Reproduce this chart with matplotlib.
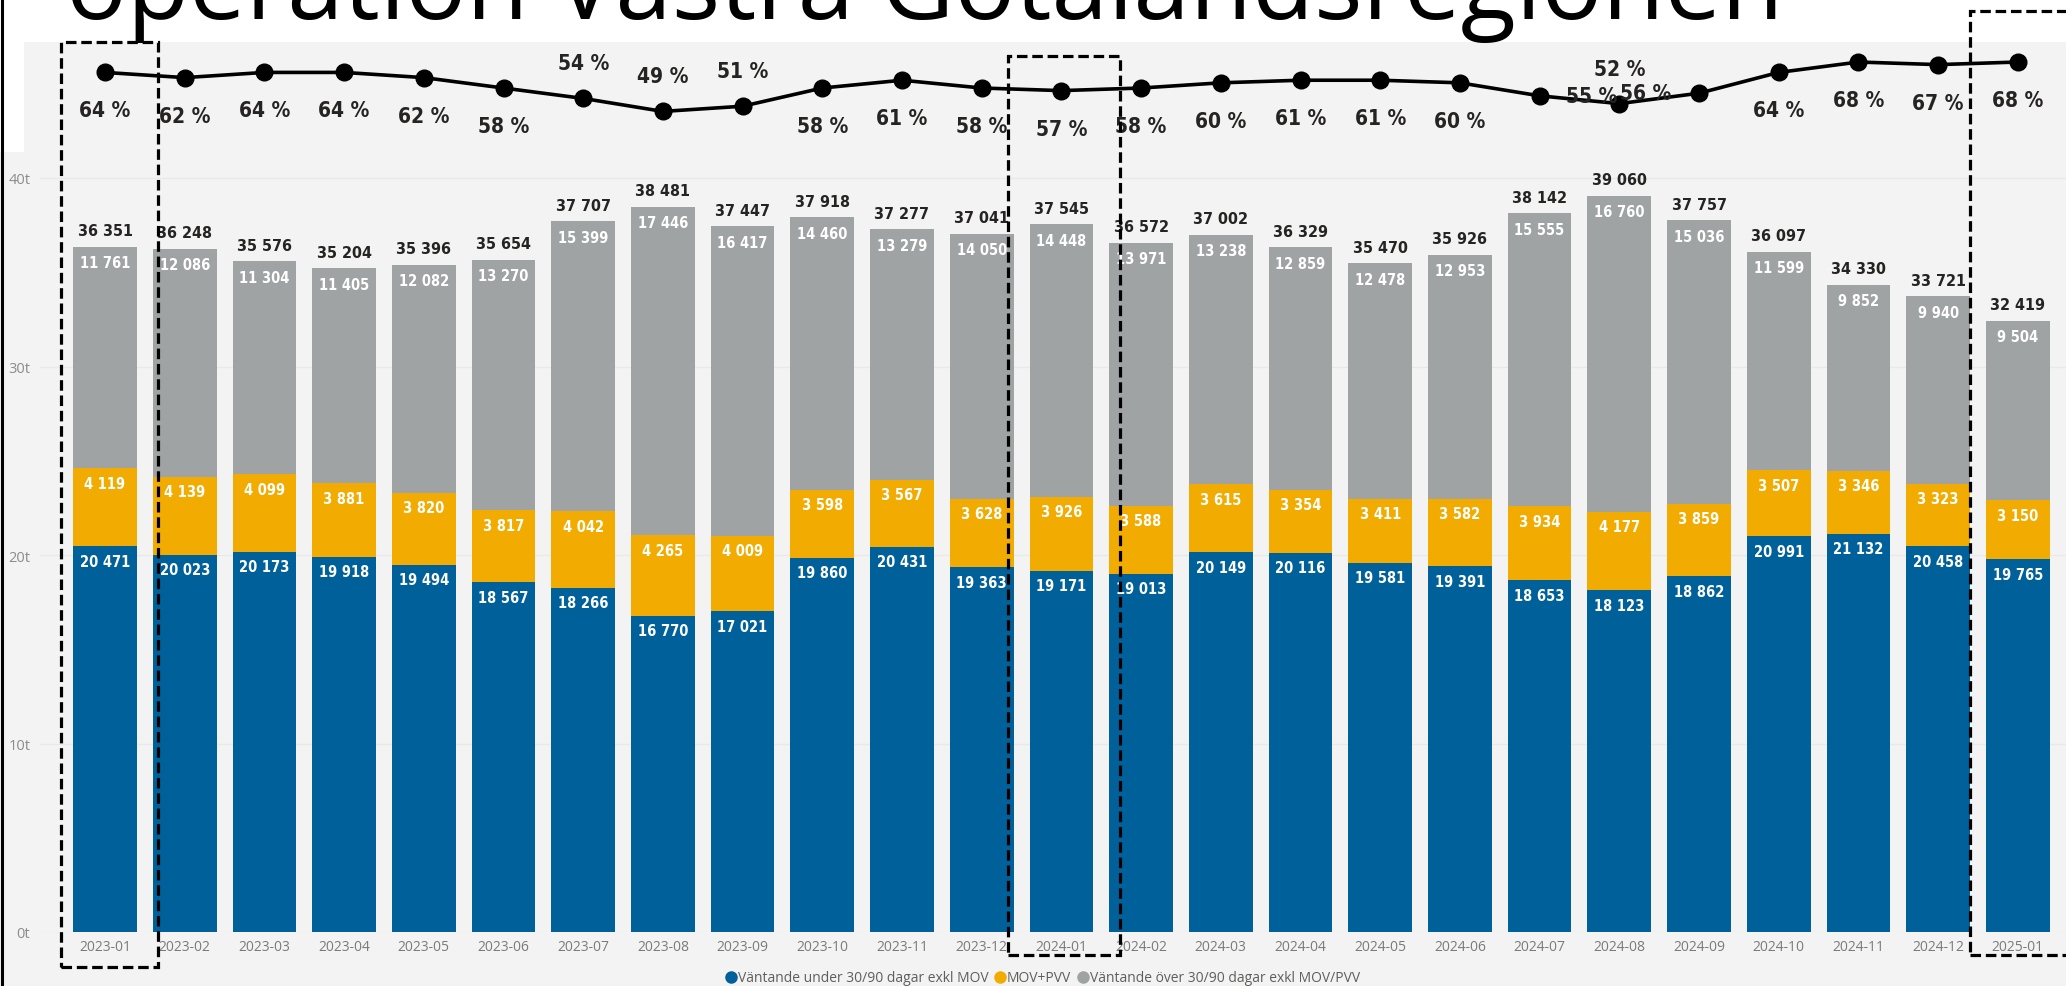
import numpy as np
import matplotlib
matplotlib.use('Agg')
import matplotlib.pyplot as plt
from matplotlib import font_manager, transforms
from matplotlib.patches import Rectangle
from matplotlib.lines import Line2D

# Data
months = ['2023-01', '2023-02', '2023-03', '2023-04', '2023-05', '2023-06', '2023-07',
          '2023-08', '2023-09', '2023-10', '2023-11', '2023-12', '2024-01', '2024-02',
          '2024-03', '2024-04', '2024-05', '2024-06', '2024-07', '2024-08', '2024-09',
          '2024-10', '2024-11', '2024-12', '2025-01']
under = [20471, 20023, 20173, 19918, 19494, 18567, 18266, 16770, 17021, 19860, 20431, 19363,
         19171, 19013, 20149, 20116, 19581, 19391, 18653, 18123, 18862, 20991, 21132, 20458, 19765]
movpvv = [4119, 4139, 4099, 3881, 3820, 3817, 4042, 4265, 4009, 3598, 3567, 3628,
          3926, 3588, 3615, 3354, 3411, 3582, 3934, 4177, 3859, 3507, 3346, 3323, 3150]
over = [11761, 12086, 11304, 11405, 12082, 13270, 15399, 17446, 16417, 14460, 13279, 14050,
        14448, 13971, 13238, 12859, 12478, 12953, 15555, 16760, 15036, 11599, 9852, 9940, 9504]
share = [64, 62, 64, 64, 62, 58, 54, 49, 51, 58, 61, 58, 57, 58, 60, 61, 61, 60,
         55, 52, 56, 64, 68, 67, 68]
highlight = ['2023-01', '2024-01', '2025-01']

legend_names = ['Väntande under 30/90 dagar exkl MOV', 'MOV+PVV',
                'Väntande över 30/90 dagar exkl MOV/PVV']
title = 'operation Västra Götalandsregionen'

# where each line label sits relative to its point
share_pos = ['below'] * 6 + ['above'] * 3 + ['below'] * 9 + ['right', 'above', 'left'] + ['below'] * 4

c_blue = '#00609A'
c_orange = '#F2AB00'
c_gray = '#A0A3A3'
c_bg = '#F3F3F3'
c_text = '#252423'

W, H = 2066, 987


def find_font(*subs):
    for s in subs:
        for f in font_manager.fontManager.ttflist:
            if s.lower() in f.fname.lower().replace(' ', ''):
                return f.fname
    return None


# DIN-like narrow figures for the value labels
num_file = find_font('DejaVuSansCondensed-Bold', 'LiberationSansNarrow-Bold',
                     'RobotoCondensed-Medium', 'RobotoCondensed-Bold', 'Roboto-Medium', 'Roboto-Bold')


def numfont(size):
    if num_file:
        return font_manager.FontProperties(fname=num_file, size=size)
    return font_manager.FontProperties(family='DejaVu Sans', weight='bold', size=size)


fig = plt.figure(figsize=(W / 100, H / 100), dpi=100)
fig.patch.set_facecolor('white')

# grey canvas with the small white notch at the top left
fig.add_artist(Rectangle((24 / W, 0), 1, 1 - 43 / H, transform=fig.transFigure,
                         facecolor=c_bg, edgecolor='none', zorder=-10))
fig.add_artist(Rectangle((0, 0), 24 / W, 1 - 153 / H, transform=fig.transFigure,
                         facecolor=c_bg, edgecolor='none', zorder=-10))
fig.add_artist(Line2D([1.5 / W, 1.5 / W], [0, 1], transform=fig.transFigure,
                      color='black', lw=2.2, zorder=5))

ax_l, ax_r, ax_t, ax_b = 40, 2066, 43, 933
ax = fig.add_axes([ax_l / W, 1 - ax_b / H, (ax_r - ax_l) / W, (ax_b - ax_t) / H])
ax.set_facecolor('none')

x = np.arange(len(months))
under_a = np.array(under)
mov_a = np.array(movpvv)
over_a = np.array(over)
total = under_a + mov_a + over_a

bw = 0.8
ax.bar(x, under_a, bw, color=c_blue, zorder=2)
ax.bar(x, mov_a, bw, bottom=under_a, color=c_orange, zorder=2)
ax.bar(x, over_a, bw, bottom=under_a + mov_a, color=c_gray, zorder=2)

step = 79.7
first = 105
ax.set_xlim((ax_l - first) / step, (ax_r - first) / step)
ax.set_ylim(0, 10000 * (ax_b - ax_t) / 188.5)

ax.set_yticks([0, 10000, 20000, 30000, 40000])
ax.set_yticklabels(['0t', '10t', '20t', '30t', '40t'])
ax.set_xticks(x)
ax.set_xticklabels(months)
ax.tick_params(axis='y', length=0, pad=7, labelcolor='#8C8C8C', labelsize=10.5)
ax.tick_params(axis='x', length=0, pad=5, labelcolor='#7A7A7A', labelsize=10)
for lab in ax.get_xticklabels() + ax.get_yticklabels():
    lab.set_family('Open Sans')
ax.yaxis.grid(True, color='#E9E9E9', lw=1, zorder=0)
ax.set_axisbelow(True)
for s in ax.spines.values():
    s.set_visible(False)

# segment and total labels
for i in range(len(months)):
    ax.annotate(f'{under[i]:,}'.replace(',', ' '), (x[i], under[i]), xytext=(0, -15),
                textcoords='offset pixels', ha='center', va='center', color='white',
                fontproperties=numfont(10.5), zorder=4)
    ax.annotate(f'{movpvv[i]:,}'.replace(',', ' '), (x[i], under[i] + movpvv[i]), xytext=(0, -15),
                textcoords='offset pixels', ha='center', va='center', color='white',
                fontproperties=numfont(10.5), zorder=4)
    ax.annotate(f'{over[i]:,}'.replace(',', ' '), (x[i], total[i]), xytext=(0, -16),
                textcoords='offset pixels', ha='center', va='center', color='white',
                fontproperties=numfont(10.5), zorder=4)
    ax.annotate(f'{total[i]:,}'.replace(',', ' '), (x[i], total[i]), xytext=(0, 16),
                textcoords='offset pixels', ha='center', va='center', color=c_text,
                fontproperties=numfont(11.5), zorder=4)

# share line on its own scale
ax2 = ax.twinx()
ax2.set_ylim(75.7 - (ax_b - ax_t) / 2.6, 75.7)
ax2.set_axis_off()
ax2.plot(x, share, color='black', lw=2.6, marker='o', ms=12, zorder=3)
offs = {'below': (0, -38), 'above': (0, 35), 'right': (52, 0), 'left': (-53, 0)}
for i in range(len(months)):
    ax2.annotate(f'{share[i]} %', (x[i], share[i]), xytext=offs[share_pos[i]],
                 textcoords='offset pixels', ha='center', va='center', color=c_text,
                 fontproperties=numfont(15), zorder=4)

# dashed highlight boxes
tr = transforms.blended_transform_factory(ax.transData, ax.transAxes)
boxes = [(-0.55, 0.67, 1.0, -0.0393), (-0.67, 0.74, 0.9843, -0.0258), (-0.60, 0.62, 1.0348, -0.0258)]
for m, (l, r, t, b) in zip(highlight, boxes):
    i = months.index(m)
    ax2.add_patch(Rectangle((i + l, b), r - l, t - b, transform=tr, fill=False,
                            edgecolor='black', lw=2.3, linestyle=(0, (3.3, 1.5)),
                            clip_on=False, zorder=10))

# legend
handles = [Line2D([], [], marker='o', ls='', color=c, markersize=8) for c in (c_blue, c_orange, c_gray)]
fig.legend(handles, legend_names, loc='center', bbox_to_anchor=(1043 / W, 1 - 979 / H), ncol=3,
           frameon=False, handlelength=0.7, handletextpad=0.15, columnspacing=0.5, borderpad=0,
           prop={'family': 'Open Sans', 'size': 10}, labelcolor='#605E5C')

# title, cut by the top edge as in the slide
t = fig.text(66 / W, 1 - 19 / H, title, ha='left', va='baseline', fontsize=70,
             family='Open Sans', color='black')
r = fig.canvas.get_renderer()
wid = t.get_window_extent(r).width
t.set_fontsize(70 * 1718 / wid)

fig.savefig('out.png', dpi=100)
